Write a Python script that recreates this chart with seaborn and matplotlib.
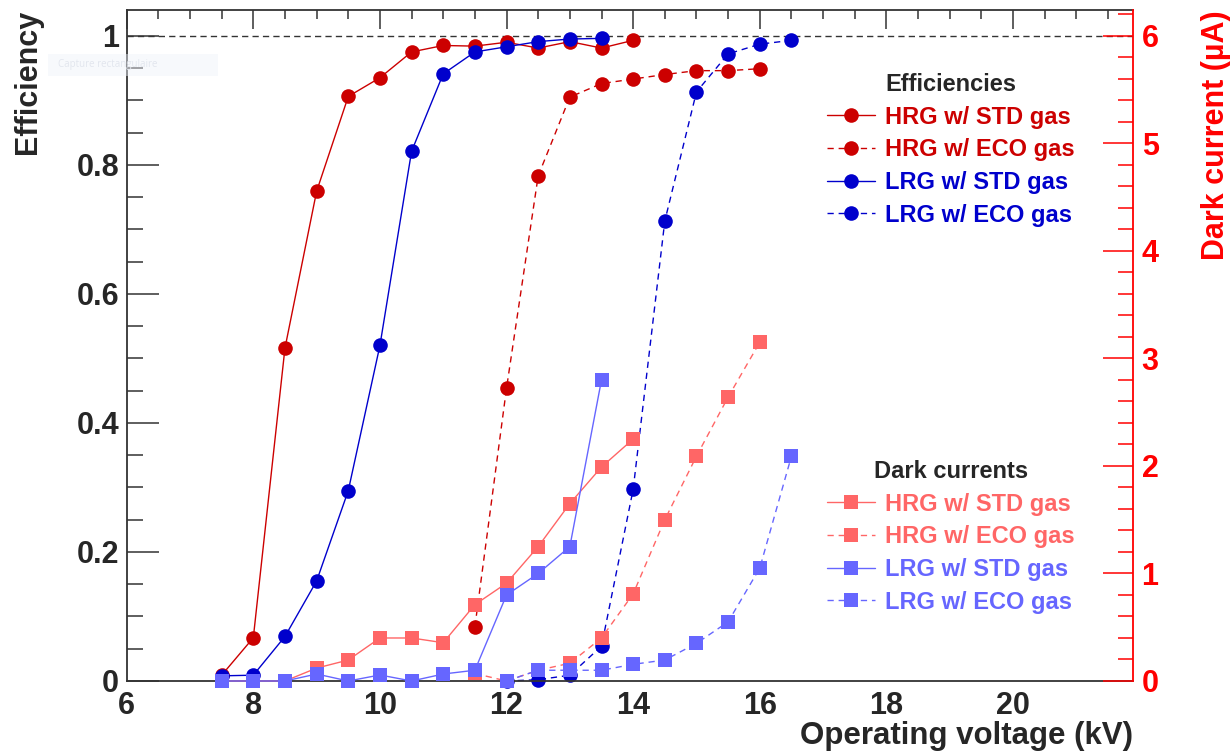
import matplotlib
matplotlib.use("Agg")
import matplotlib.pyplot as plt
from matplotlib.lines import Line2D
from matplotlib.patches import Rectangle
from matplotlib.ticker import MultipleLocator, FuncFormatter
import seaborn as sns

# ---------------- data ----------------
# Efficiency vs operating voltage (kV)
hrg_std_v = [7.5, 8, 8.5, 9, 9.5, 10, 10.5, 11, 11.5, 12, 12.5, 13, 13.5, 14]
hrg_std_eff = [0.009, 0.067, 0.516, 0.759, 0.906, 0.935, 0.975, 0.985, 0.984,
               0.990, 0.981, 0.991, 0.981, 0.993]

hrg_eco_v = [11.5, 12, 12.5, 13, 13.5, 14, 14.5, 15, 15.5, 16]
hrg_eco_eff = [0.084, 0.454, 0.783, 0.905, 0.926, 0.933, 0.940, 0.946, 0.946, 0.949]

lrg_std_v = [7.5, 8, 8.5, 9, 9.5, 10, 10.5, 11, 11.5, 12, 12.5, 13, 13.5]
lrg_std_eff = [0.008, 0.009, 0.069, 0.155, 0.295, 0.520, 0.821, 0.941, 0.975,
               0.983, 0.991, 0.995, 0.996]

lrg_eco_v = [12, 12.5, 13, 13.5, 14, 14.5, 15, 15.5, 16, 16.5]
lrg_eco_eff = [0.0, 0.002, 0.009, 0.054, 0.297, 0.713, 0.913, 0.972, 0.987, 0.993]

# Dark current (uA) vs operating voltage (kV)
hrg_std_cur = [0.0, 0.0, 0.0, 0.12, 0.195, 0.40, 0.40, 0.356, 0.71, 0.91,
               1.25, 1.65, 1.99, 2.25]
hrg_eco_cur = [0.07, 0.0, 0.10, 0.165, 0.40, 0.81, 1.50, 2.09, 2.64, 3.15]
lrg_std_cur = [0.0, 0.0, 0.0, 0.065, 0.0, 0.056, 0.0, 0.065, 0.10, 0.80,
               1.00, 1.25, 2.80]
lrg_eco_cur = [0.0, 0.10, 0.10, 0.10, 0.155, 0.195, 0.35, 0.55, 1.05, 2.09]

labels = ["HRG w/ STD gas", "HRG w/ ECO gas", "LRG w/ STD gas", "LRG w/ ECO gas"]

# ---------------- style ----------------
RED = "#CC0000"
BLUE = "#0000CC"
PINK = "#FF6666"
LAV = "#6666FF"
AXC = "#333333"
DASH = (0, (4.5, 3.5))

sns.set_style("white")
plt.rcParams["font.family"] = ["Liberation Sans", "DejaVu Sans"]
plt.rcParams["font.weight"] = "bold"
plt.rcParams["axes.labelweight"] = "bold"

fig = plt.figure(figsize=(12.31, 7.54), dpi=100)
ax = fig.add_axes([0.10292, 0.09682, 0.81770, 0.88992])
ax2 = ax.twinx()


def draw(axis, v, y, color, ls, marker, ms):
    sns.lineplot(x=v, y=y, ax=axis, color=color, linestyle=ls, lw=1.0,
                 marker=marker, markersize=ms, markeredgewidth=0,
                 clip_on=False, estimator=None, sort=False, legend=False)


# efficiency curves
ax.axhline(1.0, color=AXC, lw=1.0, ls=(0, (4.5, 3)), zorder=1)
draw(ax, hrg_std_v, hrg_std_eff, RED, "-", "o", 10.5)
draw(ax, hrg_eco_v, hrg_eco_eff, RED, DASH, "o", 10.5)
draw(ax, lrg_std_v, lrg_std_eff, BLUE, "-", "o", 10.5)
draw(ax, lrg_eco_v, lrg_eco_eff, BLUE, DASH, "o", 10.5)

# dark current curves
draw(ax2, hrg_std_v, hrg_std_cur, PINK, "-", "s", 9.5)
draw(ax2, hrg_eco_v, hrg_eco_cur, PINK, DASH, "s", 9.5)
draw(ax2, lrg_std_v, lrg_std_cur, LAV, "-", "s", 9.5)
draw(ax2, lrg_eco_v, lrg_eco_cur, LAV, DASH, "s", 9.5)

# ---------------- axes ----------------
ax.set_xlim(6, 21.9)
ax.set_ylim(0, 1.04)
ax2.set_ylim(0, 6.24)

ax.xaxis.set_major_locator(MultipleLocator(2))
ax.xaxis.set_minor_locator(MultipleLocator(0.5))
ax.yaxis.set_major_locator(MultipleLocator(0.2))
ax.yaxis.set_minor_locator(MultipleLocator(0.05))
ax2.yaxis.set_major_locator(MultipleLocator(1))
ax2.yaxis.set_minor_locator(MultipleLocator(0.2))
fmt = FuncFormatter(lambda v, p: f"{v:g}")
ax.xaxis.set_major_formatter(fmt)
ax.yaxis.set_major_formatter(fmt)
ax2.yaxis.set_major_formatter(fmt)

ax.tick_params(axis="x", which="major", direction="in", length=13.7, width=1.1,
               color=AXC, top=True, labelsize=22, pad=7)
ax.tick_params(axis="x", which="minor", direction="in", length=6.8, width=1.1,
               color=AXC, top=True)
ax.tick_params(axis="y", which="major", direction="in", length=23, width=1.1,
               color=AXC, right=False, labelsize=22, pad=5.5)
ax.tick_params(axis="y", which="minor", direction="in", length=11.5, width=1.1,
               color=AXC, right=False)
ax2.tick_params(axis="y", which="major", direction="in", length=21.6, width=1.1,
                color="red", labelcolor="red", labelsize=22, pad=6)
ax2.tick_params(axis="y", which="minor", direction="in", length=10.8, width=1.1,
                color="red")

for s in ax.spines.values():
    s.set_color(AXC)
    s.set_linewidth(1.3)
    s.set_visible(True)
ax.spines["right"].set_visible(False)
for k in ("left", "top", "bottom"):
    ax2.spines[k].set_visible(False)
ax2.spines["right"].set_color("red")
ax2.spines["right"].set_linewidth(1.3)

ax.set_xlabel("Operating voltage (kV)", fontsize=22.5, loc="right")
ax.xaxis.set_label_coords(1.0, -0.0596)
ax.set_ylabel("Efficiency", fontsize=22, loc="top")
ax.yaxis.set_label_coords(-0.083, 1.0)
ax2.set_ylabel("Dark current (µA)", fontsize=22, color="red", loc="top")
ax2.yaxis.set_label_coords(1.0673, 1.0)

# ---------------- legends ----------------
def handles(c_solid, c_dash, marker, ms):
    out = []
    for c, ls in ((c_solid[0], "-"), (c_dash[0], DASH), (c_solid[1], "-"), (c_dash[1], DASH)):
        out.append(Line2D([], [], color=c, ls=ls, lw=1.0, marker=marker,
                          markersize=ms, markeredgewidth=0))
    return out


leg_kw = dict(loc="upper left", bbox_transform=fig.transFigure, frameon=False,
              fontsize=17, handlelength=2.04, handletextpad=0.42,
              labelspacing=0.41, borderpad=0, borderaxespad=0,
              title_fontproperties={"weight": "bold", "size": 17})

eff_h = handles((RED, BLUE), (RED, BLUE), "o", 10.5)
leg1 = ax2.legend(eff_h, labels, title="Efficiencies",
                  bbox_to_anchor=(827 / 1231, 1 - 73 / 754), **leg_kw)
for t, c in zip(leg1.get_texts(), (RED, RED, BLUE, BLUE)):
    t.set_color(c)
ax2.add_artist(leg1)

cur_h = handles((PINK, LAV), (PINK, LAV), "s", 9.5)
leg2 = ax2.legend(cur_h, labels, title="Dark currents",
                  bbox_to_anchor=(827 / 1231, 1 - 460 / 754), **leg_kw)
for t, c in zip(leg2.get_texts(), (PINK, PINK, LAV, LAV)):
    t.set_color(c)

# faint screen-capture tag in the upper-left corner
fig.patches.append(Rectangle((48 / 1231, 1 - 76 / 754), 170 / 1231, 22 / 754,
                             transform=fig.transFigure, facecolor="#eef2fa",
                             edgecolor="none", alpha=0.45, zorder=5))
fig.text(58 / 1231, 1 - 65 / 754, "Capture rectangulaire", fontsize=7,
         color="#e2e6ee", va="center", ha="left", family="Open Sans",
         fontweight="normal", zorder=6)

fig.savefig("out.png", dpi=100)
